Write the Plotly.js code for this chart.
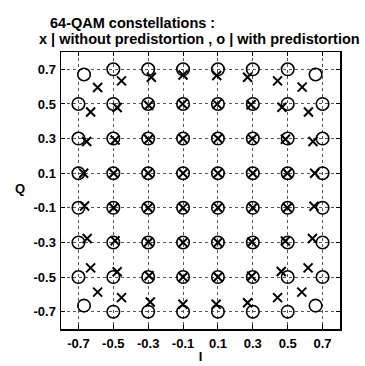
<!DOCTYPE html>
<html>
<head>
<meta charset="utf-8">
<script src="https://cdn.plot.ly/plotly-3.0.1.min.js"></script>
<style>html,body{margin:0;padding:0;background:#fff;}#chart{width:365px;height:366px;}</style>
</head>
<body>
<div id="chart"></div>
<script>
// Tick positions / labels
const tickVals = [-0.7, -0.5, -0.3, -0.1, 0.1, 0.3, 0.5, 0.7];
const tickText = ["-0.7", "-0.5", "-0.3", "-0.1", "0.1", "0.3", "0.5", "0.7"];

// "x" : without predistortion (rows from Q=0.7 down to Q=-0.7, columns I=-0.7..0.7)
const noPreI = [
  [-0.590, -0.453, -0.282, -0.100, 0.093, 0.270, 0.442, 0.583],
  [-0.630, -0.478, -0.297, -0.103, 0.095, 0.290, 0.467, 0.619],
  [-0.653, -0.490, -0.298, -0.100, 0.100, 0.297, 0.487, 0.645],
  [-0.670, -0.498, -0.300, -0.100, 0.100, 0.300, 0.498, 0.655],
  [-0.665, -0.498, -0.300, -0.100, 0.100, 0.300, 0.498, 0.651],
  [-0.650, -0.490, -0.298, -0.100, 0.100, 0.295, 0.487, 0.642],
  [-0.630, -0.478, -0.295, -0.100, 0.100, 0.293, 0.463, 0.617],
  [-0.590, -0.453, -0.288, -0.101, 0.090, 0.270, 0.442, 0.581]
];
const noPreQ = [
  [0.595, 0.633, 0.654, 0.667, 0.664, 0.654, 0.633, 0.597],
  [0.453, 0.479, 0.492, 0.500, 0.499, 0.495, 0.481, 0.453],
  [0.283, 0.292, 0.296, 0.299, 0.300, 0.298, 0.296, 0.283],
  [0.100, 0.100, 0.100, 0.100, 0.100, 0.100, 0.100, 0.100],
  [-0.090, -0.100, -0.100, -0.100, -0.100, -0.100, -0.100, -0.091],
  [-0.277, -0.290, -0.297, -0.300, -0.300, -0.297, -0.292, -0.277],
  [-0.447, -0.469, -0.492, -0.500, -0.500, -0.495, -0.468, -0.447],
  [-0.587, -0.619, -0.644, -0.657, -0.657, -0.648, -0.619, -0.587]
];

// "o" : with predistortion
const withPreI = [
  [-0.668, -0.5, -0.3, -0.1, 0.1, 0.3, 0.5, 0.660],
  [-0.7, -0.5, -0.3, -0.1, 0.1, 0.3, 0.5, 0.7],
  [-0.7, -0.5, -0.3, -0.1, 0.1, 0.3, 0.5, 0.7],
  [-0.7, -0.5, -0.3, -0.1, 0.1, 0.3, 0.5, 0.7],
  [-0.7, -0.5, -0.3, -0.1, 0.1, 0.3, 0.5, 0.7],
  [-0.7, -0.5, -0.3, -0.1, 0.1, 0.3, 0.5, 0.7],
  [-0.7, -0.5, -0.3, -0.1, 0.1, 0.3, 0.5, 0.7],
  [-0.668, -0.5, -0.3, -0.1, 0.1, 0.3, 0.5, 0.660]
];
const withPreQ = [
  [0.670, 0.7, 0.7, 0.7, 0.7, 0.7, 0.7, 0.670],
  [0.5, 0.5, 0.5, 0.5, 0.5, 0.5, 0.5, 0.5],
  [0.3, 0.3, 0.3, 0.3, 0.3, 0.3, 0.3, 0.3],
  [0.1, 0.1, 0.1, 0.1, 0.1, 0.1, 0.1, 0.1],
  [-0.1, -0.1, -0.1, -0.1, -0.1, -0.1, -0.1, -0.1],
  [-0.3, -0.3, -0.3, -0.3, -0.3, -0.3, -0.3, -0.3],
  [-0.5, -0.5, -0.5, -0.5, -0.5, -0.5, -0.5, -0.5],
  [-0.665, -0.7, -0.7, -0.7, -0.7, -0.7, -0.7, -0.665]
];

const FONT = "Liberation Sans, Arial, sans-serif";

const traces = [
  {
    x: withPreI.flat(), y: withPreQ.flat(),
    type: "scatter", mode: "markers", name: "with predistortion",
    marker: {symbol: "circle-open", size: 12.5, color: "#000", line: {width: 1.6, color: "#000"}},
    hoverinfo: "skip"
  },
  {
    x: noPreI.flat(), y: noPreQ.flat(),
    type: "scatter", mode: "markers", name: "without predistortion",
    marker: {symbol: "x-thin-open", size: 9, color: "#000", line: {width: 2, color: "#000"}},
    hoverinfo: "skip"
  }
];

const axisCommon = {
  range: [-0.8, 0.8],
  tickvals: tickVals, ticktext: tickText,
  ticks: "inside", ticklen: 4, tickwidth: 1, tickcolor: "#000",
  showline: true, linecolor: "#000", linewidth: 1.5, mirror: "ticks",
  showgrid: true, gridcolor: "#555", gridwidth: 1, griddash: "dot",
  zeroline: false,
  tickfont: {family: FONT, size: 13, color: "#000", weight: "bold"}
};

const layout = {
  width: 365, height: 366,
  margin: {l: 61, r: 25, t: 52, b: 37},
  paper_bgcolor: "#fff", plot_bgcolor: "#fff",
  showlegend: false,
  xaxis: Object.assign({}, axisCommon, {
    ticklabelstandoff: 2,
    title: {text: "I", font: {family: FONT, size: 13, color: "#000", weight: "bold"}, standoff: 2}
  }),
  yaxis: Object.assign({}, axisCommon, {ticklabelstandoff: 1}),
  annotations: [
    {text: "64-QAM constellations :", xref: "paper", yref: "paper", x: 0.258, y: 1.0, yshift: 29.5,
     xanchor: "center", yanchor: "middle", showarrow: false, borderpad: 0,
     font: {family: FONT, size: 14.5, color: "#000", weight: "bold"}},
    {text: "x | without predistortion , o | with predistortion", xref: "paper", yref: "paper", x: 0.496, y: 1.0, yshift: 13,
     xanchor: "center", yanchor: "middle", showarrow: false, borderpad: 0,
     font: {family: FONT, size: 14.5, color: "#000", weight: "bold"}},
    {text: "Q", xref: "paper", yref: "paper", x: 0, xshift: -41, y: 0.5, yshift: 2,
     xanchor: "center", yanchor: "middle", showarrow: false,
     font: {family: FONT, size: 13, color: "#000", weight: "bold"}}
  ]
};

Plotly.newPlot("chart", traces, layout, {displayModeBar: false, staticPlot: true});
</script>
</body>
</html>
